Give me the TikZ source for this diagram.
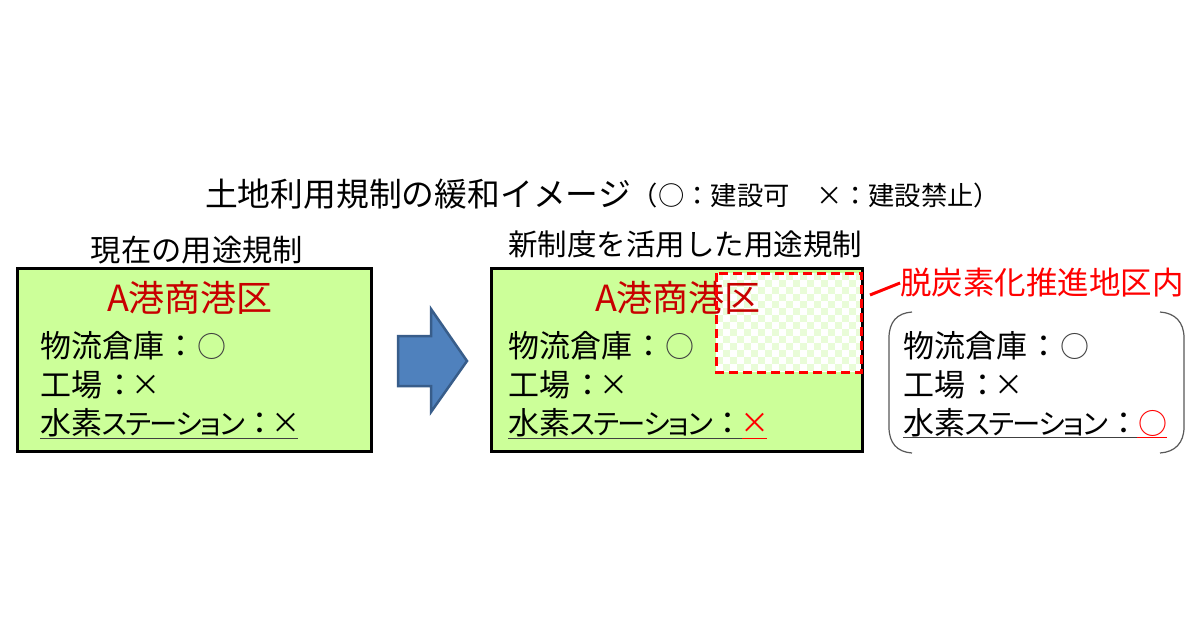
\documentclass[tikz,border=0pt]{standalone}
\usepackage{fontspec}
\setmainfont{Noto Sans CJK JP}
\newfontfamily\jppalt[RawFeature={+palt},LetterSpace=-6]{Noto Sans CJK JP}
\usetikzlibrary{positioning}
\definecolor{boxgreen}{HTML}{CCFF99}
\definecolor{checkgreen}{HTML}{E9FCD8}
\definecolor{portred}{HTML}{C80000}
\definecolor{arrowblue}{HTML}{4F81BD}
\definecolor{arrowedge}{HTML}{385D8A}
\tikzset{
  zonebox/.style={draw=black,line width=3pt,fill=boxgreen,minimum width=354pt,minimum height=183pt,inner sep=0pt},
  rowtext/.style={anchor=west,inner sep=0pt,font=\fontsize{31}{31}\selectfont},
  marktext/.style={anchor=center,inner sep=0pt,font=\fontsize{29}{29}\selectfont},
  headtext/.style={inner sep=0pt,font=\fontsize{30.3}{31}\selectfont},
  porttext/.style={inner sep=0pt,text=portred,font=\fontsize{36}{36}\selectfont}
}
\newcommand{\katakana}{{\jppalt\fontsize{28.4}{29}\selectfont ステーション}}
\begin{document}
\begin{tikzpicture}[x=1pt,y=-1pt]
        \useasboundingbox[fill=white] (0,0) rectangle (1200,630);
        \node [inner sep=0pt,font=\fontsize{32.8}{33}\selectfont] (title) at (418,194) {土地利用規制の緩和イメージ};
        \node [inner sep=0pt,font=\fontsize{26.3}{27}\selectfont] (legend) at (816,195) {（○：建設可　×：建設禁止）};
        
        %左の枠
        \node [headtext] (headleft) at (197,250) {現在の用途規制};
        \node [zonebox] (leftbox) at (194,359.5) {};
        \node [porttext] (portleft) at (190,298) {A港商港区};
        \node [rowtext] (lefta) at (40,346) {物流倉庫\hspace{1.5pt}：};
        \node [marktext,text=black!75] (leftamark) at (212,346) {○};
        \node [rowtext] (leftb) at (40,385) {工場\hspace{2pt}：};
        \node [marktext] (leftbmark) at (146,385) {×};
        \node [rowtext] (leftc) at (40,423) {水素\katakana ：};
        \node [marktext] (leftcmark) at (286,423) {×};
        \draw [line width=1pt,color=black!75] (40,438) -- (298,438);
        
        %矢印
        \draw [line width=2.5pt,draw=arrowedge,fill=arrowblue] (398,336) -- (431,336) -- (431,309) -- (467,361) -- (431,412) -- (431,386) -- (398,386) -- cycle;
        
        %中央の枠
        \node [headtext,font=\fontsize{29.5}{30}\selectfont] (headmid) at (685,244) {新制度を活用した用途規制};
        \node [zonebox,minimum width=371pt] (midbox) at (676.5,359.5) {};
        \begin{scope}
          \clip (716,273) rectangle (861,372);
          \fill [white] (716,273) rectangle (861,372);
          \foreach \i in {0,...,20}
            \foreach \j in {0,...,14}
              {\pgfmathparse{int(mod(\i+\j,2))}
               \ifnum\pgfmathresult=0
                 \fill [checkgreen] (716+7*\i,273+7*\j) rectangle ++(7,7);
               \fi}
        \end{scope}
        \node [porttext] (portmid) at (678,298) {A港商港区};
        \node [rowtext] (mida) at (508,346) {物流倉庫\hspace{1.5pt}：};
        \node [marktext,text=black!75] (midamark) at (680,346) {○};
        \node [rowtext] (midb) at (508,385) {工場\hspace{2pt}：};
        \node [marktext] (midbmark) at (614,385) {×};
        \node [rowtext] (midc) at (508,423) {水素\katakana ：};
        \node [marktext,text=red] (midcmark) at (755,423) {×};
        \draw [line width=1pt,color=black!75] (508,438) -- (742,438);
        \draw [line width=1pt,color=red] (742,438) -- (767,438);
        \draw [red,line width=3pt,dash pattern=on 9pt off 5pt] (716,273) rectangle (861,372);
        
        %右の説明
        \node [inner sep=0pt,text=red,font=\fontsize{31.5}{32}\selectfont] (redlabel) at (1042,283) {脱炭素化推進地区内};
        \coordinate (leadstart) at (870,295);
        \draw [red,line width=3pt] (leadstart) -- (redlabel.west);
        \node [rowtext] (righta) at (903,346) {物流倉庫\hspace{1.5pt}：};
        \node [marktext,text=black!75] (rightamark) at (1075,346) {○};
        \node [rowtext] (rightb) at (903,385) {工場\hspace{2pt}：};
        \node [marktext] (rightbmark) at (1009,385) {×};
        \node [rowtext] (rightc) at (903,423) {水素\katakana ：};
        \node [marktext,text=red] (rightcmark) at (1153,423) {○};
        \draw [line width=1pt,color=black!75] (903,437) -- (1137,437);
        \draw [line width=1pt,color=red] (1137,437) -- (1167,437);
        \draw [line width=1.2pt,color=black!65] (912,312) .. controls (897,313) and (889,322) .. (889,338) -- (889,427) .. controls (889,443) and (897,452) .. (912,453);
        \draw [line width=1.2pt,color=black!65] (1160,312) .. controls (1175,313) and (1184,322) .. (1184,338) -- (1184,427) .. controls (1184,443) and (1175,452) .. (1160,453);
        \end{tikzpicture}
\end{document}
